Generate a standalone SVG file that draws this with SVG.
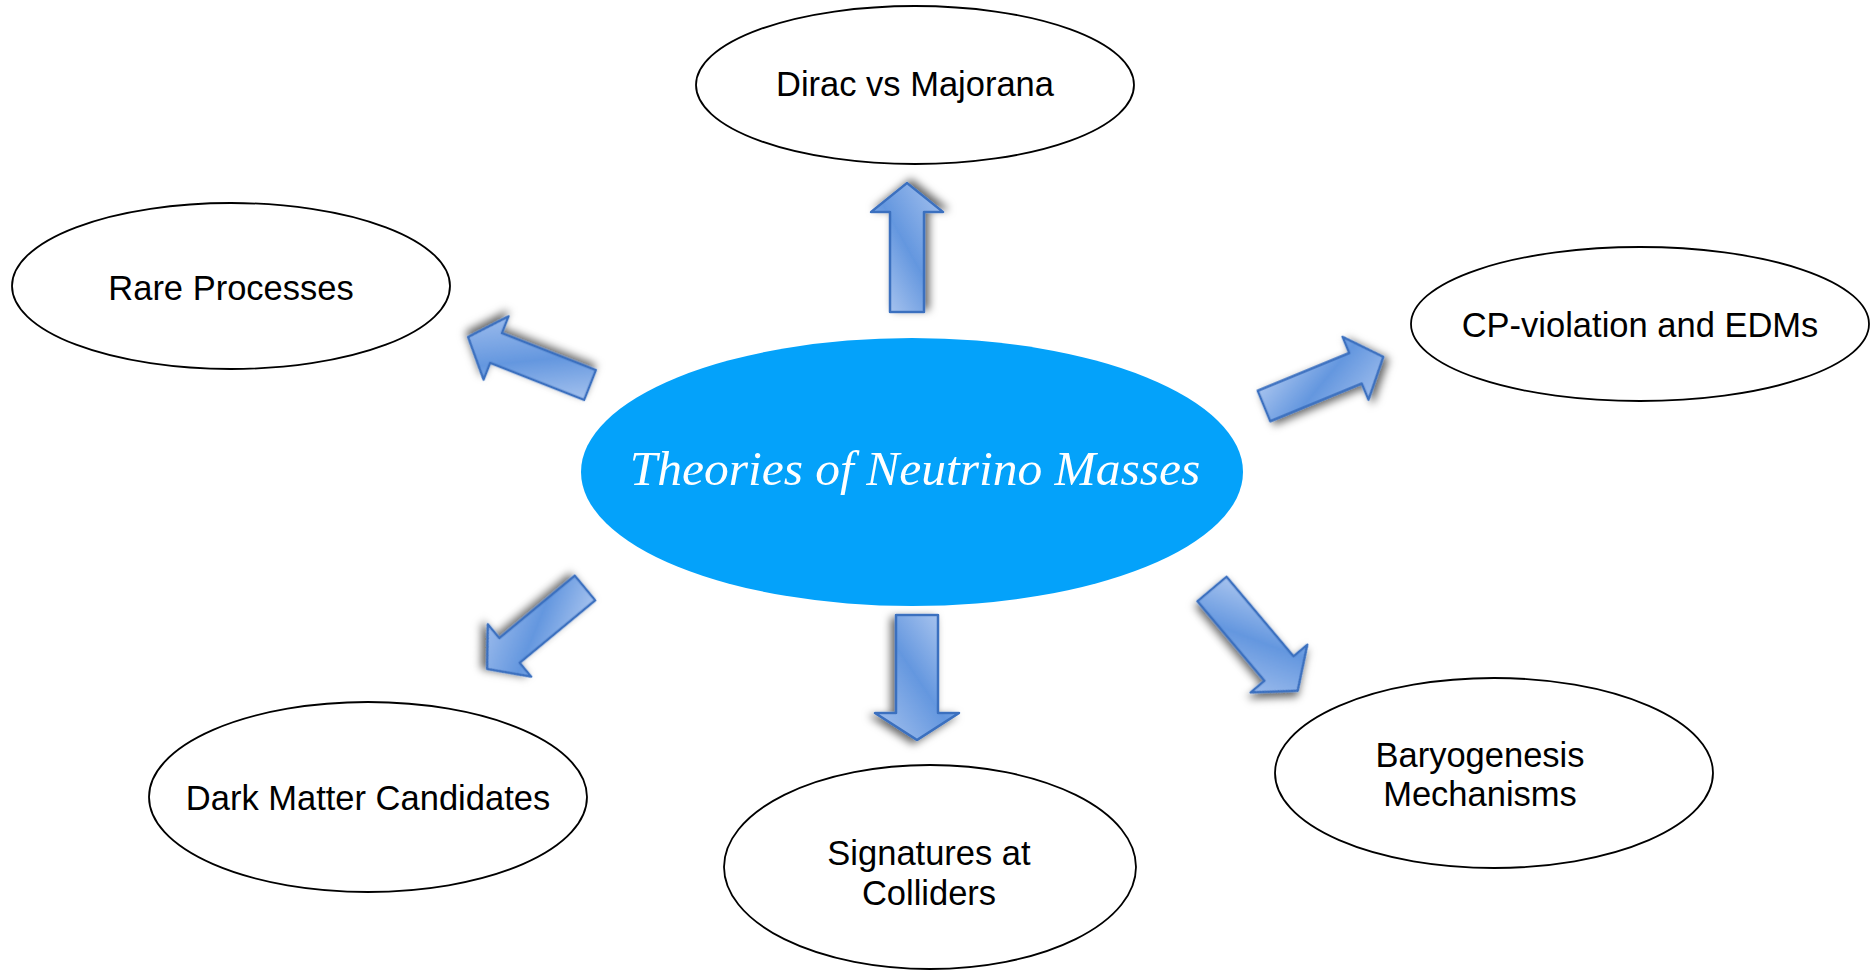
<svg xmlns="http://www.w3.org/2000/svg" width="1873" height="971" viewBox="0 0 1873 971">
<style>
.node{fill:#ffffff;stroke:#000000;stroke-width:1.8}
.lbl{font-family:"Liberation Sans",Arial,sans-serif;font-size:34.5px;fill:#000000;text-anchor:middle}
.arrow{fill:url(#ag);stroke:#3a6fbf;stroke-width:2.4;stroke-linejoin:round;filter:url(#sh)}
</style>
<defs>
<linearGradient id="ag" x1="0" y1="0" x2="1" y2="1">
<stop offset="0" stop-color="#bcd1f3"/>
<stop offset="0.5" stop-color="#6497df"/>
<stop offset="1" stop-color="#a9c4ef"/>
</linearGradient>
<filter id="sh" x="-40%" y="-40%" width="180%" height="180%">
<feDropShadow dx="3" dy="4" stdDeviation="4" flood-color="#000000" flood-opacity="0.6"/>
</filter>
</defs>
<rect width="1873" height="971" fill="#ffffff"/>
<g id="connectors">
<path class="arrow" transform="translate(907,312) rotate(-90)" d="M0,-17 L100,-17 L100,-36 L129,0 L100,36 L100,17 L0,17 Z"/>
<path class="arrow" transform="translate(590,385) rotate(201.5)" d="M0,-16 L101,-16 L101,-34 L131,0 L101,34 L101,16 L0,16 Z"/>
<path class="arrow" transform="translate(1264,406) rotate(-22.4)" d="M0,-16.5 L99,-16.5 L99,-34 L129,0 L99,34 L99,16.5 L0,16.5 Z"/>
<path class="arrow" transform="translate(585,588) rotate(140.4)" d="M0,-16 L98,-16 L98,-34 L127,0 L98,34 L98,16 L0,16 Z"/>
<path class="arrow" transform="translate(917,615) rotate(90)" d="M0,-21 L98,-21 L98,-42 L125,0 L98,42 L98,21 L0,21 Z"/>
<path class="arrow" transform="translate(1212,589) rotate(49.9)" d="M0,-19 L104,-19 L104,-37 L133,0 L104,37 L104,19 L0,19 Z"/>
</g>
<g id="center">
<ellipse cx="912" cy="472" rx="331" ry="134" fill="#04a2fa"/>
<text x="915" y="485" font-family="'Liberation Serif','Times New Roman',serif" font-style="italic" font-size="49.5" fill="#ffffff" text-anchor="middle">Theories of Neutrino Masses</text>
</g>
<g id="dirac">
<ellipse class="node" cx="915" cy="85" rx="219" ry="79"/>
<text class="lbl" x="915" y="96">Dirac vs Majorana</text>
</g>
<g id="rare">
<ellipse class="node" cx="231" cy="286" rx="219" ry="83"/>
<text class="lbl" x="231" y="300">Rare Processes</text>
</g>
<g id="cp">
<ellipse class="node" cx="1640" cy="324" rx="229" ry="77"/>
<text class="lbl" x="1640" y="337">CP-violation and EDMs</text>
</g>
<g id="darkmatter">
<ellipse class="node" cx="368" cy="797" rx="219" ry="95"/>
<text class="lbl" x="368" y="810">Dark Matter Candidates</text>
</g>
<g id="colliders">
<ellipse class="node" cx="930" cy="867" rx="206" ry="102"/>
<text class="lbl" x="929" y="865">Signatures at</text>
<text class="lbl" x="929" y="905">Colliders</text>
</g>
<g id="baryogenesis">
<ellipse class="node" cx="1494" cy="773" rx="219" ry="95"/>
<text class="lbl" x="1480" y="767">Baryogenesis</text>
<text class="lbl" x="1480" y="806">Mechanisms</text>
</g>
</svg>
